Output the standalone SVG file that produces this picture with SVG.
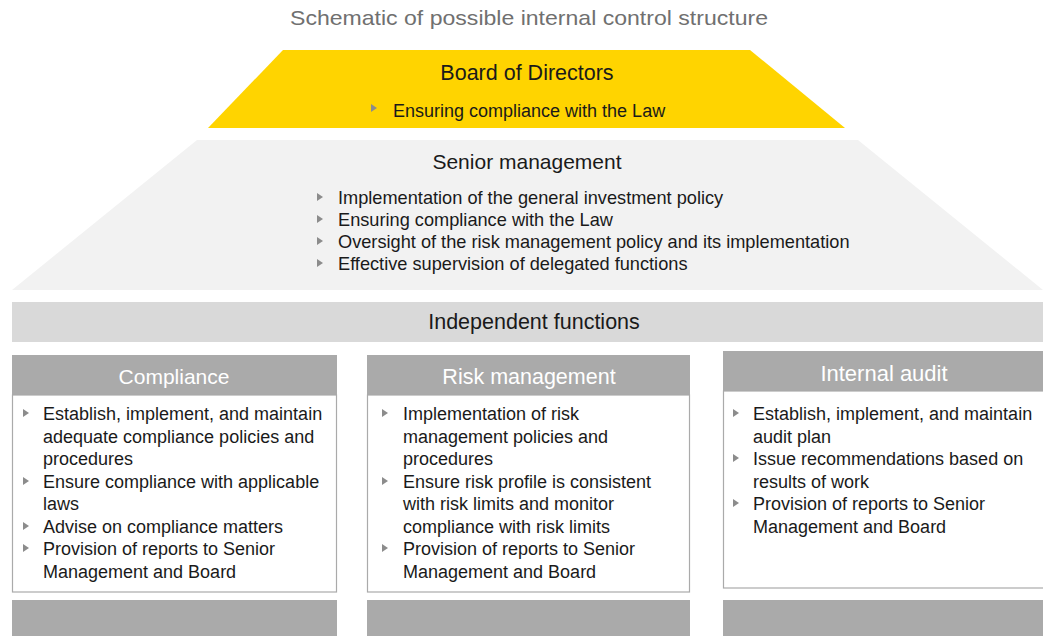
<svg xmlns="http://www.w3.org/2000/svg" width="1043" height="636" viewBox="0 0 1043 636">
<style>
text{font-family:"Liberation Sans",Arial,sans-serif;fill:#1a1a1a}
.title{font-size:21px;fill:#707070}
.h{font-size:21px;text-anchor:middle}
.hw{font-size:21px;text-anchor:middle;fill:#ffffff}
.t{font-size:18.2px}
.b{font-size:18px}
.hdr{fill:#aaaaaa}
.box{fill:#ffffff;stroke:#aaaaaa;stroke-width:1.2}
.foot{fill:#aaaaaa}
.tri{fill:#8c8c8c}
</style>
<defs>
<path id="tri" d="M0,-4 L6,0 L0,4 Z" class="tri"/>
</defs>
<rect width="1043" height="636" fill="#ffffff"/>
<text class="title" x="529" y="25" text-anchor="middle" textLength="478" lengthAdjust="spacingAndGlyphs">Schematic of possible internal control structure</text>

<g id="board">
<polygon points="283,50 750,50 845,128 208,128" fill="#ffd400"/>
<text class="h" x="527" y="80" style="font-size:21.5px">Board of Directors</text>
<use href="#tri" x="371" y="108"/>
<text class="t" x="393" y="117" style="font-size:18px">Ensuring compliance with the Law</text>
</g>

<g id="senior">
<polygon points="197,140 858,140 1043,290 12,290" fill="#f2f2f2"/>
<text class="h" x="527" y="169">Senior management</text>
<use href="#tri" x="317" y="197"/>
<text class="t" x="338" y="204">Implementation of the general investment policy</text>
<use href="#tri" x="317" y="219"/>
<text class="t" x="338" y="226">Ensuring compliance with the Law</text>
<use href="#tri" x="317" y="241"/>
<text class="t" x="338" y="248">Oversight of the risk management policy and its implementation</text>
<use href="#tri" x="317" y="263"/>
<text class="t" x="338" y="270">Effective supervision of delegated functions</text>
</g>

<g id="independent">
<rect x="12" y="302" width="1031" height="40" fill="#d9d9d9"/>
<text class="h" x="534" y="329" style="font-size:21.5px">Independent functions</text>
</g>

<g id="compliance">
<rect class="hdr" x="12" y="355" width="325" height="40"/>
<text class="hw" x="174" y="384">Compliance</text>
<rect class="box" x="12.5" y="395" width="324" height="197"/>
<use href="#tri" x="23" y="413"/>
<text class="b" x="43" y="420">Establish, implement, and maintain</text>
<text class="b" x="43" y="442.5">adequate compliance policies and</text>
<text class="b" x="43" y="465">procedures</text>
<use href="#tri" x="23" y="481"/>
<text class="b" x="43" y="487.5">Ensure compliance with applicable</text>
<text class="b" x="43" y="510">laws</text>
<use href="#tri" x="23" y="526"/>
<text class="b" x="43" y="532.5">Advise on compliance matters</text>
<use href="#tri" x="23" y="548"/>
<text class="b" x="43" y="555">Provision of reports to Senior</text>
<text class="b" x="43" y="577.5">Management and Board</text>
<rect class="foot" x="12" y="600" width="325" height="36"/>
</g>

<g id="risk">
<rect class="hdr" x="367" y="355" width="323" height="40"/>
<text class="hw" x="529" y="384" style="font-size:21.5px">Risk management</text>
<rect class="box" x="367.5" y="395" width="322" height="197"/>
<use href="#tri" x="382" y="413"/>
<text class="b" x="403" y="420">Implementation of risk</text>
<text class="b" x="403" y="442.5">management policies and</text>
<text class="b" x="403" y="465">procedures</text>
<use href="#tri" x="382" y="481"/>
<text class="b" x="403" y="487.5">Ensure risk profile is consistent</text>
<text class="b" x="403" y="510">with risk limits and monitor</text>
<text class="b" x="403" y="532.5">compliance with risk limits</text>
<use href="#tri" x="382" y="548"/>
<text class="b" x="403" y="555">Provision of reports to Senior</text>
<text class="b" x="403" y="577.5">Management and Board</text>
<rect class="foot" x="367" y="600" width="323" height="36"/>
</g>

<g id="audit">
<rect class="hdr" x="723" y="351" width="320" height="40"/>
<text class="hw" x="884" y="381" style="font-size:22px">Internal audit</text>
<rect class="box" x="723.5" y="391" width="325" height="197"/>
<use href="#tri" x="733" y="413"/>
<text class="b" x="753" y="420">Establish, implement, and maintain</text>
<text class="b" x="753" y="442.5">audit plan</text>
<use href="#tri" x="733" y="458"/>
<text class="b" x="753" y="465">Issue recommendations based on</text>
<text class="b" x="753" y="487.5">results of work</text>
<use href="#tri" x="733" y="503"/>
<text class="b" x="753" y="510">Provision of reports to Senior</text>
<text class="b" x="753" y="532.5">Management and Board</text>
<rect class="foot" x="723" y="600" width="320" height="36"/>
</g>
</svg>
